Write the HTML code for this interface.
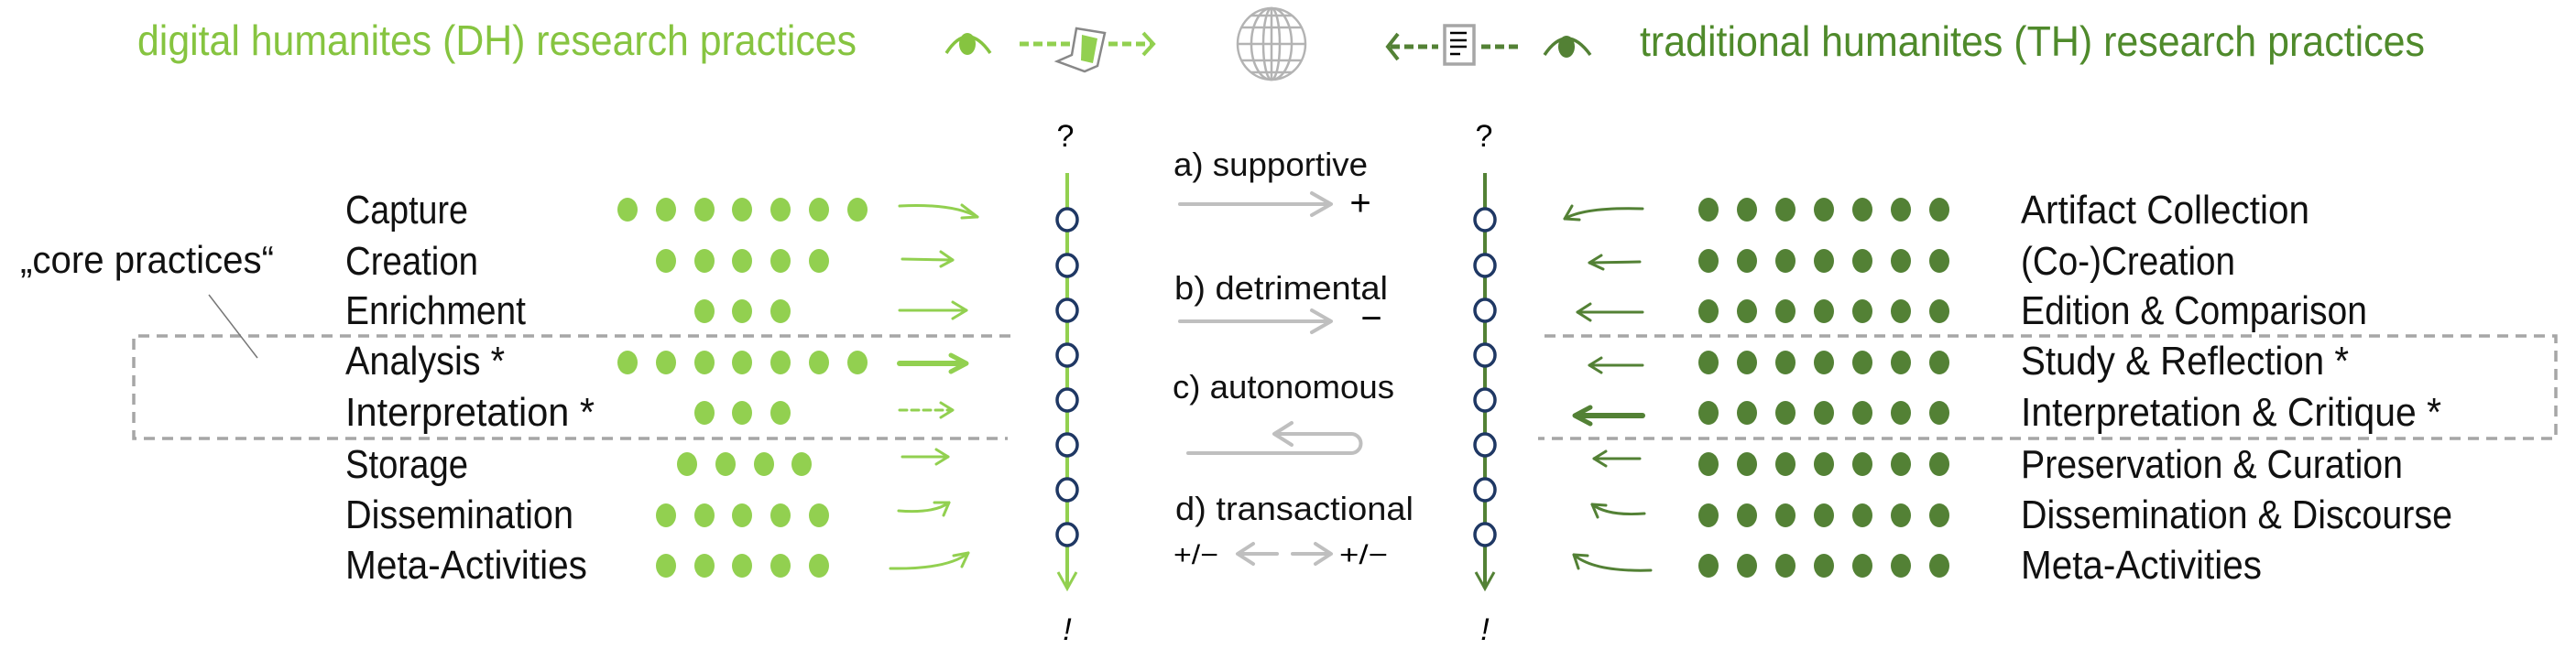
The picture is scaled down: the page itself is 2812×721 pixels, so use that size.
<!DOCTYPE html>
<html><head><meta charset="utf-8"><style>
html,body{margin:0;padding:0;background:#fff;}
svg{display:block;}
text{font-family:"Liberation Sans",sans-serif;}
</style></head><body>
<svg width="2812" height="721" viewBox="0 0 2812 721" xmlns="http://www.w3.org/2000/svg">
<text x="150" y="60" font-size="46" fill="#86c440" textLength="785" lengthAdjust="spacingAndGlyphs">digital humanites (DH) research practices</text>
<text x="1790" y="61" font-size="46" fill="#4f8a2b" textLength="857" lengthAdjust="spacingAndGlyphs">traditional humanites (TH) research practices</text>

<g>
 <path d="M1033,58 Q1056,22 1081,58" fill="none" stroke="#86c440" stroke-width="3.5"/>
 <ellipse cx="1056" cy="48" rx="9" ry="12" fill="#86c440"/>
 <line x1="1113" y1="48" x2="1168" y2="48" stroke="#92d050" stroke-width="5" stroke-dasharray="10,5"/>
 <line x1="1210" y1="48" x2="1258" y2="48" stroke="#92d050" stroke-width="5" stroke-dasharray="10,5"/>
 <path d="M1248,36 L1259,48 L1248,60" fill="none" stroke="#92d050" stroke-width="4"/>
 <path d="M1175,31 L1206,36 L1198,72 L1184,78 L1154,67 L1170,60 Z" fill="#fff" stroke="#888" stroke-width="2.5"/>
 <path d="M1181,38 L1198,42 L1193,69 L1180,66 Z" fill="#92d050"/>
 <g fill="none" stroke="#b3b3b3" stroke-width="2.5">
  <ellipse cx="1388" cy="48" rx="37" ry="39"/>
  <ellipse cx="1388" cy="48" rx="22" ry="39"/>
  <ellipse cx="1388" cy="48" rx="9" ry="39"/>
  <line x1="1388" y1="9" x2="1388" y2="87"/>
  <line x1="1351" y1="48" x2="1425" y2="48"/>
  <line x1="1356" y1="30" x2="1420" y2="30"/>
  <line x1="1356" y1="66" x2="1420" y2="66"/>
  <line x1="1366" y1="17" x2="1410" y2="17"/>
  <line x1="1366" y1="79" x2="1410" y2="79"/>
 </g>
 <path d="M1526,37 L1515,51 L1526,65" fill="none" stroke="#538135" stroke-width="4"/>
 <line x1="1518" y1="51" x2="1570" y2="51" stroke="#538135" stroke-width="5" stroke-dasharray="10,5"/>
 <rect x="1577" y="28" width="32" height="42" fill="#fff" stroke="#a6a6a6" stroke-width="3.5"/>
 <g stroke="#000" stroke-width="2.5"><line x1="1583" y1="36" x2="1601" y2="36"/><line x1="1583" y1="44" x2="1601" y2="44"/><line x1="1583" y1="51" x2="1601" y2="51"/><line x1="1583" y1="59" x2="1594" y2="59"/></g>
 <line x1="1617" y1="51" x2="1660" y2="51" stroke="#538135" stroke-width="5" stroke-dasharray="10,5"/>
 <path d="M1686,60 Q1710,24 1736,60" fill="none" stroke="#538135" stroke-width="3.5"/>
 <ellipse cx="1710" cy="51" rx="9" ry="12" fill="#538135"/>
</g>

<g fill="none" stroke="#a6a6a6" stroke-width="3.5" stroke-dasharray="12,8">
 <path d="M1103,367 L146,367 L146,479 L1100,479"/>
 <path d="M1686,367 L2790,367 L2790,479 L1679,479"/>
</g>
<line x1="228" y1="322" x2="281" y2="391" stroke="#777" stroke-width="1.5"/>
<text x="22" y="298" font-size="42" fill="#111" textLength="277" lengthAdjust="spacingAndGlyphs">„core practices“</text>

<g font-size="44" fill="#111">
 <text x="377" y="244" textLength="134" lengthAdjust="spacingAndGlyphs">Capture</text>
 <text x="377" y="300" textLength="145" lengthAdjust="spacingAndGlyphs">Creation</text>
 <text x="377" y="354" textLength="197" lengthAdjust="spacingAndGlyphs">Enrichment</text>
 <text x="377" y="409" textLength="174" lengthAdjust="spacingAndGlyphs">Analysis *</text>
 <text x="377" y="465" textLength="272" lengthAdjust="spacingAndGlyphs">Interpretation *</text>
 <text x="377" y="522" textLength="134" lengthAdjust="spacingAndGlyphs">Storage</text>
 <text x="377" y="577" textLength="249" lengthAdjust="spacingAndGlyphs">Dissemination</text>
 <text x="377" y="632" textLength="264" lengthAdjust="spacingAndGlyphs">Meta-Activities</text>
</g>
<g font-size="44" fill="#111">
 <text x="2206" y="244" textLength="315" lengthAdjust="spacingAndGlyphs">Artifact Collection</text>
 <text x="2206" y="300" textLength="234" lengthAdjust="spacingAndGlyphs">(Co-)Creation</text>
 <text x="2206" y="354" textLength="378" lengthAdjust="spacingAndGlyphs">Edition &amp; Comparison</text>
 <text x="2206" y="409" textLength="358" lengthAdjust="spacingAndGlyphs">Study &amp; Reflection *</text>
 <text x="2206" y="465" textLength="459" lengthAdjust="spacingAndGlyphs">Interpretation &amp; Critique *</text>
 <text x="2206" y="522" textLength="417" lengthAdjust="spacingAndGlyphs">Preservation &amp; Curation</text>
 <text x="2206" y="577" textLength="471" lengthAdjust="spacingAndGlyphs">Dissemination &amp; Discourse</text>
 <text x="2206" y="632" textLength="263" lengthAdjust="spacingAndGlyphs">Meta-Activities</text>
</g>

<g fill="#92d050">
 <ellipse cx="685" cy="229" rx="11" ry="13"/><ellipse cx="727" cy="229" rx="11" ry="13"/><ellipse cx="769" cy="229" rx="11" ry="13"/><ellipse cx="810" cy="229" rx="11" ry="13"/><ellipse cx="852" cy="229" rx="11" ry="13"/><ellipse cx="894" cy="229" rx="11" ry="13"/><ellipse cx="936" cy="229" rx="11" ry="13"/>
 <ellipse cx="727" cy="285" rx="11" ry="13"/><ellipse cx="769" cy="285" rx="11" ry="13"/><ellipse cx="810" cy="285" rx="11" ry="13"/><ellipse cx="852" cy="285" rx="11" ry="13"/><ellipse cx="894" cy="285" rx="11" ry="13"/>
 <ellipse cx="769" cy="340" rx="11" ry="13"/><ellipse cx="810" cy="340" rx="11" ry="13"/><ellipse cx="852" cy="340" rx="11" ry="13"/>
 <ellipse cx="685" cy="396" rx="11" ry="13"/><ellipse cx="727" cy="396" rx="11" ry="13"/><ellipse cx="769" cy="396" rx="11" ry="13"/><ellipse cx="810" cy="396" rx="11" ry="13"/><ellipse cx="852" cy="396" rx="11" ry="13"/><ellipse cx="894" cy="396" rx="11" ry="13"/><ellipse cx="936" cy="396" rx="11" ry="13"/>
 <ellipse cx="769" cy="451" rx="11" ry="13"/><ellipse cx="810" cy="451" rx="11" ry="13"/><ellipse cx="852" cy="451" rx="11" ry="13"/>
 <ellipse cx="750" cy="507" rx="11" ry="13"/><ellipse cx="792" cy="507" rx="11" ry="13"/><ellipse cx="834" cy="507" rx="11" ry="13"/><ellipse cx="875" cy="507" rx="11" ry="13"/>
 <ellipse cx="727" cy="563" rx="11" ry="13"/><ellipse cx="769" cy="563" rx="11" ry="13"/><ellipse cx="810" cy="563" rx="11" ry="13"/><ellipse cx="852" cy="563" rx="11" ry="13"/><ellipse cx="894" cy="563" rx="11" ry="13"/>
 <ellipse cx="727" cy="618" rx="11" ry="13"/><ellipse cx="769" cy="618" rx="11" ry="13"/><ellipse cx="810" cy="618" rx="11" ry="13"/><ellipse cx="852" cy="618" rx="11" ry="13"/><ellipse cx="894" cy="618" rx="11" ry="13"/>
</g>

<g fill="#538135">
 <g id="r1">
 <ellipse cx="1865" cy="229" rx="11" ry="13"/><ellipse cx="1907" cy="229" rx="11" ry="13"/><ellipse cx="1949" cy="229" rx="11" ry="13"/><ellipse cx="1991" cy="229" rx="11" ry="13"/><ellipse cx="2033" cy="229" rx="11" ry="13"/><ellipse cx="2075" cy="229" rx="11" ry="13"/><ellipse cx="2117" cy="229" rx="11" ry="13"/>
 </g>
 <use href="#r1" y="56"/><use href="#r1" y="111"/><use href="#r1" y="167"/><use href="#r1" y="222"/><use href="#r1" y="278"/><use href="#r1" y="334"/><use href="#r1" y="389"/>
</g>

<g fill="none" stroke="#92d050" stroke-width="3" stroke-linecap="round" stroke-linejoin="round">
 <path d="M982,225 Q1040,222 1067,237"/><path d="M1050,224 L1067,237 L1050,238"/>
 <path d="M985,283 L1040,284"/><path d="M1027,275 L1040,284 L1027,291"/>
 <path d="M982,339 L1055,339"/><path d="M1040,330 L1055,339 L1040,348"/>
 <path d="M982,397 L1052,397" stroke-width="6"/><path d="M1038,388 L1055,397 L1038,406" stroke-width="5"/>
 <path d="M982,448 L1038,448" stroke-dasharray="8,5"/><path d="M1027,440 L1040,448 L1027,456"/>
 <path d="M985,499 L1035,499"/><path d="M1022,491 L1035,499 L1022,507"/>
 <path d="M981,558 Q1020,561 1036,549"/><path d="M1020,549 L1036,549 L1030,563"/>
 <path d="M972,621 Q1035,622 1057,604"/><path d="M1041,607 L1057,604 L1050,619"/>
</g>

<g fill="none" stroke="#538135" stroke-width="3" stroke-linecap="round" stroke-linejoin="round">
 <path d="M1793,228 Q1730,226 1708,239"/><path d="M1716,225 L1708,239 L1724,240"/>
 <path d="M1790,286 L1735,287"/><path d="M1748,279 L1735,287 L1750,294"/>
 <path d="M1793,341 L1722,341"/><path d="M1736,332 L1722,341 L1736,350"/>
 <path d="M1793,399 L1735,399"/><path d="M1748,391 L1735,399 L1748,407"/>
 <path d="M1793,454 L1722,454" stroke-width="6"/><path d="M1736,445 L1719,454 L1736,463" stroke-width="5"/>
 <path d="M1790,501 L1740,501"/><path d="M1753,493 L1740,501 L1753,509"/>
 <path d="M1795,561 Q1755,564 1738,551"/><path d="M1744,565 L1738,551 L1753,552"/>
 <path d="M1802,623 Q1740,625 1718,606"/><path d="M1723,621 L1718,606 L1733,607"/>
</g>

<line x1="1165" y1="189" x2="1165" y2="642" stroke="#92d050" stroke-width="4"/>
<path d="M1155,625 L1165,643 L1175,625" fill="none" stroke="#92d050" stroke-width="3"/>
<line x1="1621" y1="189" x2="1621" y2="642" stroke="#538135" stroke-width="4"/>
<path d="M1611,625 L1621,643 L1631,625" fill="none" stroke="#538135" stroke-width="3"/>
<g fill="#fff" stroke="#1f3864" stroke-width="3.5">
 <ellipse cx="1165" cy="240" rx="11" ry="12"/><ellipse cx="1165" cy="290" rx="11" ry="12"/><ellipse cx="1165" cy="339" rx="11" ry="12"/><ellipse cx="1165" cy="388" rx="11" ry="12"/><ellipse cx="1165" cy="437" rx="11" ry="12"/><ellipse cx="1165" cy="486" rx="11" ry="12"/><ellipse cx="1165" cy="535" rx="11" ry="12"/><ellipse cx="1165" cy="584" rx="11" ry="12"/>
 <ellipse cx="1621" cy="240" rx="11" ry="12"/><ellipse cx="1621" cy="290" rx="11" ry="12"/><ellipse cx="1621" cy="339" rx="11" ry="12"/><ellipse cx="1621" cy="388" rx="11" ry="12"/><ellipse cx="1621" cy="437" rx="11" ry="12"/><ellipse cx="1621" cy="486" rx="11" ry="12"/><ellipse cx="1621" cy="535" rx="11" ry="12"/><ellipse cx="1621" cy="584" rx="11" ry="12"/>
</g>
<g font-size="34" fill="#000" text-anchor="middle">
 <text x="1163" y="160">?</text><text x="1620" y="160">?</text>
 <text x="1165" y="699" font-style="italic">!</text><text x="1621" y="699" font-style="italic">!</text>
</g>

<g font-size="36" fill="#111">
 <text x="1281" y="192" textLength="212" lengthAdjust="spacingAndGlyphs">a) supportive</text>
 <text x="1282" y="327" textLength="233" lengthAdjust="spacingAndGlyphs">b) detrimental</text>
 <text x="1280" y="435" textLength="242" lengthAdjust="spacingAndGlyphs">c) autonomous</text>
 <text x="1283" y="568" textLength="260" lengthAdjust="spacingAndGlyphs">d) transactional</text>
</g>
<g fill="none" stroke="#bfbfbf" stroke-width="4" stroke-linecap="round" stroke-linejoin="round">
 <path d="M1288,223 L1452,223"/><path d="M1432,211 L1453,223 L1432,235"/>
 <path d="M1288,351 L1452,351"/><path d="M1432,339 L1453,351 L1432,363"/>
 <path d="M1297,495 L1475,495 A10.5,10.5 0 0 0 1475,474 L1392,474"/><path d="M1410,462 L1391,474 L1410,486"/>
 <path d="M1352,605 L1394,605"/><path d="M1368,594 L1351,605 L1368,616"/>
 <path d="M1411,605 L1452,605"/><path d="M1436,594 L1453,605 L1436,616"/>
</g>
<g font-size="30" fill="#000">
 <text x="1485" y="235" font-size="40" text-anchor="middle">+</text>
 <text x="1497" y="361" font-size="40" text-anchor="middle">−</text>
 <text x="1281" y="616" textLength="49" lengthAdjust="spacingAndGlyphs">+/−</text>
 <text x="1462" y="616" textLength="53" lengthAdjust="spacingAndGlyphs">+/−</text>
</g>
</svg>
</body></html>
